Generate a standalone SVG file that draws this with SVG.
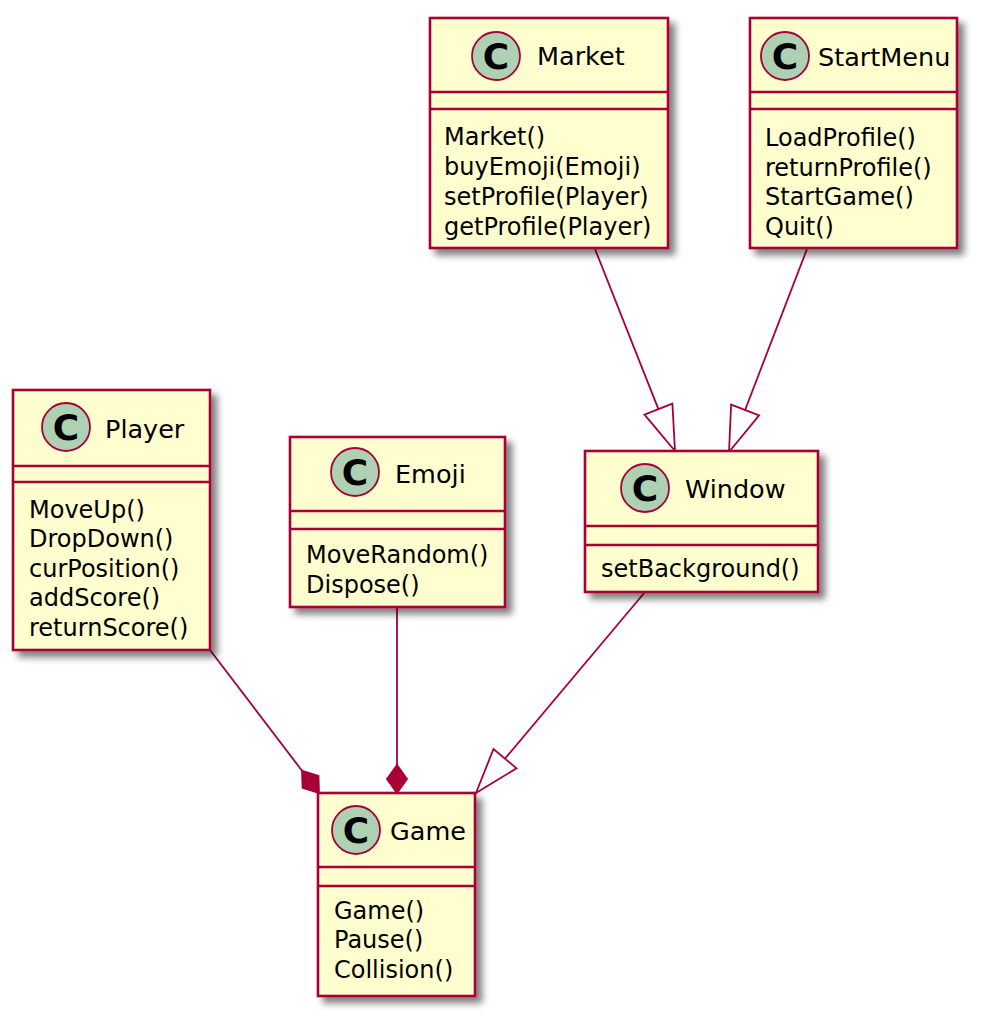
<svg xmlns="http://www.w3.org/2000/svg" width="982" height="1020" viewBox="0 0 982 1020">
<style>
.box{fill:#FEFECE;stroke:#A80036;stroke-width:2.6}
.sep{stroke:#A80036;stroke-width:2.6}
.ci{fill:#ADD1B2;stroke:#A80036;stroke-width:1.8}
.cl{font-family:"DejaVu Sans",sans-serif;font-weight:bold;font-size:36px;fill:#000;text-anchor:middle}
.ti{font-family:"DejaVu Sans",sans-serif;font-size:25.5px;fill:#000}
.me{font-family:"DejaVu Sans",sans-serif;font-size:24px;fill:#000}
.ln{stroke:#A80036;stroke-width:1.8;fill:none}
.hol{fill:#FFFFFF;stroke:#A80036;stroke-width:1.8}
.dia{fill:#A80036;stroke:#A80036;stroke-width:1.8}
</style>
<defs>
<filter id="sh" x="-10%" y="-10%" width="130%" height="130%">
<feGaussianBlur in="SourceAlpha" stdDeviation="3.5"/>
<feOffset dx="6" dy="6"/>
<feComponentTransfer><feFuncA type="linear" slope="0.5"/></feComponentTransfer>
<feMerge><feMergeNode/><feMergeNode in="SourceGraphic"/></feMerge>
</filter>
</defs>
<rect width="982" height="1020" fill="#FFFFFF"/>

<g id="connectors">
<line class="ln" x1="595" y1="249" x2="658.4" y2="409.1"/>
<polygon class="hol" points="675,451 644.5,414.6 672.4,403.6"/>
<line class="ln" x1="807" y1="249" x2="745.1" y2="410"/>
<polygon class="hol" points="729,452 759.1,415.4 731.1,404.6"/>
<line class="ln" x1="645" y1="592" x2="505" y2="758.6"/>
<polygon class="hol" points="476,793 516.5,768.3 493.5,749"/>
<line class="ln" x1="210" y1="650" x2="302" y2="770.7"/>
<polygon class="dia" points="319,793 318.5,775.8 302,770.7 302.6,787.9"/>
<line class="ln" x1="397" y1="607" x2="397" y2="765"/>
<polygon class="dia" points="397,765 407,779 397,793 387,779"/>
</g>

<g id="Market">
<rect class="box" x="430" y="18" width="238" height="230" filter="url(#sh)"/>
<line class="sep" x1="430" y1="92" x2="668" y2="92"/>
<line class="sep" x1="430" y1="109" x2="668" y2="109"/>
<circle class="ci" cx="496" cy="56" r="24"/>
<text class="cl" x="496" y="69">C</text>
<text class="ti" x="537" y="65">Market</text>
<text class="me" x="444" y="145">Market()</text>
<text class="me" x="444" y="175">buyEmoji(Emoji)</text>
<text class="me" x="444" y="205">setProfile(Player)</text>
<text class="me" x="444" y="235">getProfile(Player)</text>
</g>

<g id="StartMenu">
<rect class="box" x="750" y="18" width="207" height="230" filter="url(#sh)"/>
<line class="sep" x1="750" y1="92" x2="957" y2="92"/>
<line class="sep" x1="750" y1="109" x2="957" y2="109"/>
<circle class="ci" cx="785" cy="56" r="24"/>
<text class="cl" x="785" y="69">C</text>
<text class="ti" x="818" y="66">StartMenu</text>
<text class="me" x="765" y="146">LoadProfile()</text>
<text class="me" x="765" y="176">returnProfile()</text>
<text class="me" x="765" y="205">StartGame()</text>
<text class="me" x="765" y="235">Quit()</text>
</g>

<g id="Player">
<rect class="box" x="13" y="390" width="197" height="260" filter="url(#sh)"/>
<line class="sep" x1="13" y1="466" x2="210" y2="466"/>
<line class="sep" x1="13" y1="482" x2="210" y2="482"/>
<circle class="ci" cx="66" cy="427" r="24"/>
<text class="cl" x="66" y="440">C</text>
<text class="ti" x="105" y="438">Player</text>
<text class="me" x="29" y="517.5">MoveUp()</text>
<text class="me" x="29" y="547">DropDown()</text>
<text class="me" x="29" y="576.5">curPosition()</text>
<text class="me" x="29" y="606">addScore()</text>
<text class="me" x="29" y="635.5">returnScore()</text>
</g>

<g id="Emoji">
<rect class="box" x="290" y="437" width="215" height="170" filter="url(#sh)"/>
<line class="sep" x1="290" y1="511" x2="505" y2="511"/>
<line class="sep" x1="290" y1="529" x2="505" y2="529"/>
<circle class="ci" cx="355" cy="472" r="24"/>
<text class="cl" x="355" y="485">C</text>
<text class="ti" x="395" y="483">Emoji</text>
<text class="me" x="306" y="563">MoveRandom()</text>
<text class="me" x="306" y="592.5">Dispose()</text>
</g>

<g id="Window">
<rect class="box" x="585" y="451" width="233" height="141" filter="url(#sh)"/>
<line class="sep" x1="585" y1="526" x2="818" y2="526"/>
<line class="sep" x1="585" y1="545" x2="818" y2="545"/>
<circle class="ci" cx="645" cy="488" r="24"/>
<text class="cl" x="645" y="501">C</text>
<text class="ti" x="685" y="498">Window</text>
<text class="me" x="601" y="577">setBackground()</text>
</g>

<g id="Game">
<rect class="box" x="318" y="793" width="157" height="203" filter="url(#sh)"/>
<line class="sep" x1="318" y1="867" x2="475" y2="867"/>
<line class="sep" x1="318" y1="886" x2="475" y2="886"/>
<circle class="ci" cx="356" cy="830" r="24"/>
<text class="cl" x="356" y="843">C</text>
<text class="ti" x="390" y="840">Game</text>
<text class="me" x="334" y="918.5">Game()</text>
<text class="me" x="334" y="948">Pause()</text>
<text class="me" x="334" y="977.5">Collision()</text>
</g>
</svg>
